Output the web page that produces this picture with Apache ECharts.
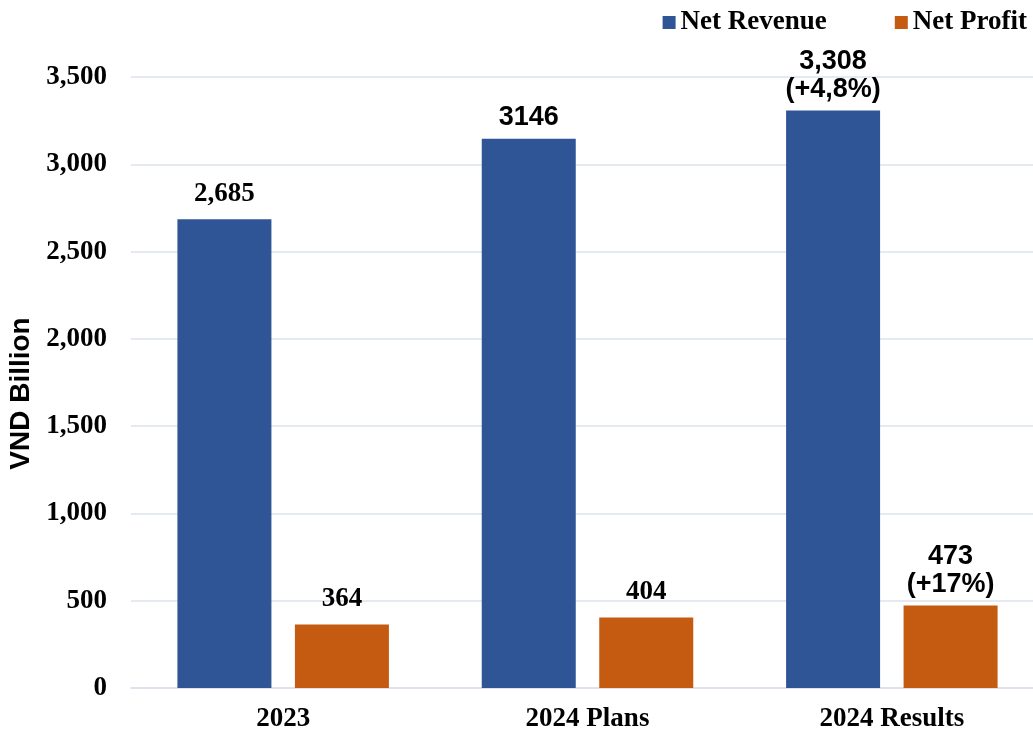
<!DOCTYPE html>
<html>
<head>
<meta charset="utf-8">
<script src="https://cdn.jsdelivr.net/npm/echarts@6/dist/echarts.min.js"></script>
<style>
  html, body { margin: 0; padding: 0; background: #fff; }
  #chart { width: 1033px; height: 733px; }
</style>
</head>
<body>
<div id="chart"></div>
<script>
// data
const categories = ['2023', '2024 Plans', '2024 Results']
const revenue = [2685, 3146, 3308]
const profit = [364, 404, 473]
const revenueLabels = ['2,685', '3146', '3,308\n(+4,8%)']
const profitLabels = ['364', '404', '473\n(+17%)']
// which labels are set in the serif face (the others are sans)
const serifLabel = [true, false, false]
const serifProfit = [true, true, false]

const serif = '"Liberation Serif", "Times New Roman", serif'
const sans = '"Liberation Sans", Arial, sans-serif'

const makeItems = (values, texts, serifFlags) => values.map((v, i) => ({
  value: v,
  label: {
    formatter: texts[i],
    fontFamily: serifFlags[i] ? serif : sans,
    fontSize: 27,
    lineHeight: 28,
    distance: serifFlags[i] ? 11 : 7
  }
}))

const chart = echarts.init(document.getElementById('chart'))

const option = {
  animation: false,
  legend: {
    top: 4,
    right: 1,
    itemWidth: 13,
    itemHeight: 13,
    itemGap: 68,
    icon: 'rect',
    textStyle: { fontFamily: serif, fontWeight: 'bold', fontSize: 27, color: '#000' },
    data: ['Net Revenue', 'Net Profit']
  },
  grid: { left: 131, width: 913, top: 77, bottom: 45, outerBoundsMode: 'none' },
  xAxis: {
    type: 'category',
    data: categories,
    axisLine: { lineStyle: { color: '#dde3ec', width: 2 } },
    axisTick: { show: false },
    axisLabel: { fontFamily: serif, fontWeight: 'bold', fontSize: 27, color: '#000', margin: 18 }
  },
  yAxis: {
    type: 'value',
    min: 0,
    max: 3500,
    interval: 500,
    name: 'VND Billion',
    nameLocation: 'middle',
    nameGap: 79,
    nameTextStyle: { fontFamily: sans, fontWeight: 'bold', fontSize: 28, color: '#000', padding: [0, 22, 0, 0] },
    axisLine: { show: false },
    axisTick: { show: false },
    splitLine: { lineStyle: { color: '#dde3ec', width: 1.5 } },
    axisLabel: {
      fontFamily: serif, fontWeight: 'bold', fontSize: 27, color: '#000', margin: 24,
      formatter: v => v.toLocaleString('en-US')
    }
  },
  series: [
    {
      name: 'Net Revenue',
      type: 'bar',
      barWidth: 94,
      barGap: '25%',
      itemStyle: { color: '#2f5597' },
      label: { show: true, position: 'top', color: '#000', fontWeight: 'bold' },
      data: makeItems(revenue, revenueLabels, serifLabel)
    },
    {
      name: 'Net Profit',
      type: 'bar',
      barWidth: 94,
      barGap: '25%',
      itemStyle: { color: '#c55a11' },
      label: { show: true, position: 'top', color: '#000', fontWeight: 'bold' },
      data: makeItems(profit, profitLabels, serifProfit)
    }
  ]
}

chart.setOption(option)
</script>
</body>
</html>
